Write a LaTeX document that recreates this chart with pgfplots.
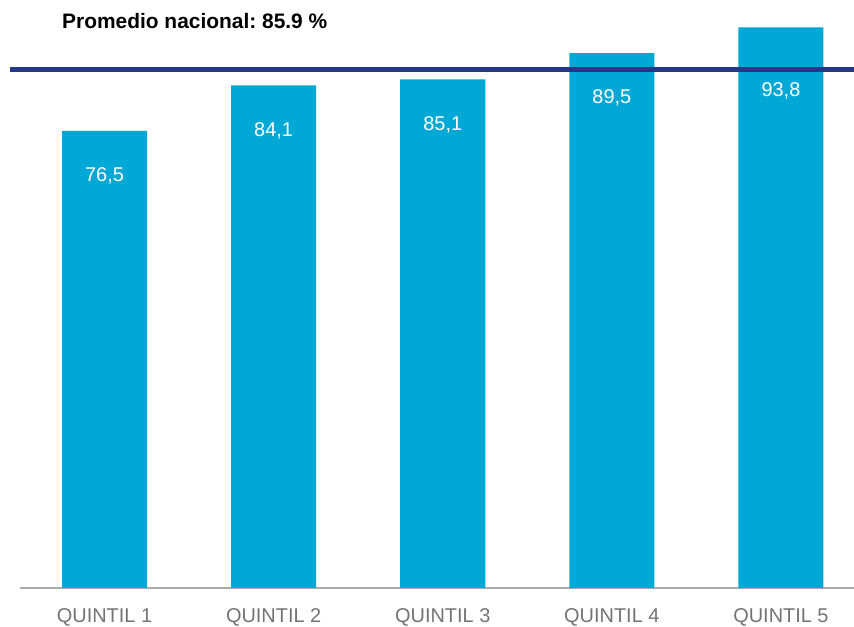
\documentclass[border=0pt]{standalone}
\usepackage{fontspec}
\setmainfont{Liberation Sans}
\usepackage{pgfplots}
\pgfplotsset{compat=1.18}
\definecolor{barblue}{RGB}{0,168,214}
\definecolor{navy}{RGB}{35,56,136}
\definecolor{ticgray}{RGB}{115,115,115}
\frenchspacing
\begin{document}
\begin{tikzpicture}[x=1bp,y=1bp]
\path[use as bounding box] (0,0) rectangle (854,627);
\begin{axis}[
  at={(10bp,39bp)}, anchor=south west,
  scale only axis, width=844bp, height=588bp,
  xmin=-0.559, xmax=4.432, ymin=0, ymax=98.4,
  axis x line*=bottom, axis y line=none,
  x axis line style={draw=none},
  major tick length=0pt,
  /pgf/number format/assume math mode=true,
  ybar, bar width=85bp, bar shift=0pt,
  xtick={0,1,2,3,4},
  xticklabels={QUINTIL 1,QUINTIL 2,QUINTIL 3,QUINTIL 4,QUINTIL 5},
  x tick label style={font=\fontsize{20}{22}\selectfont, text=ticgray, anchor=base, yshift=-35bp},
  ytick=\empty,
  clip=false,
]
\addplot[navy, line width=5bp, sharp plot, forget plot] coordinates {(-0.559,86.8) (4.432,86.8)};
\addplot[ticgray!60, line width=1.2bp, sharp plot, forget plot] coordinates {(-0.5,0) (4.432,0)};
\addplot[draw=none, fill=none, forget plot] coordinates {(0,76.5)};
\end{axis}
\begin{axis}[
  at={(10bp,39bp)}, anchor=south west,
  scale only axis, width=844bp, height=588bp,
  xmin=-0.559, xmax=4.432, ymin=0, ymax=98.4,
  axis lines=none,
  /pgf/number format/assume math mode=true,
  ybar, bar width=85bp, bar shift=0pt,
  every node near coord/.append style={font=\fontsize{20}{22}\selectfont, text=white, anchor=center},
  clip=false,
]
\addplot[draw=none, fill=barblue] coordinates {(0,76.5) (1,84.1) (2,85.1) (3,89.5) (4,93.8)};
\addplot[navy, line width=5bp, sharp plot, forget plot] coordinates {(-0.559,86.8) (4.432,86.8)};
\addplot[draw=none, fill=none, forget plot,
  nodes near coords={\pgfmathprintnumber[fixed,fixed zerofill,precision=1,use comma]{\pgfplotspointmeta}},
  every node near coord/.append style={yshift=-45bp}]
  coordinates {(0,76.5) (1,84.1) (2,85.1) (3,89.5)};
\addplot[draw=none, fill=none, forget plot,
  nodes near coords={\pgfmathprintnumber[fixed,fixed zerofill,precision=1,use comma]{\pgfplotspointmeta}},
  every node near coord/.append style={yshift=-63bp}]
  coordinates {(4,93.8)};
\end{axis}
\node[anchor=base west, font=\fontsize{21}{23}\selectfont\bfseries, inner sep=0] at (62,598) {Promedio nacional: 85.9 \%};
\end{tikzpicture}
\end{document}
